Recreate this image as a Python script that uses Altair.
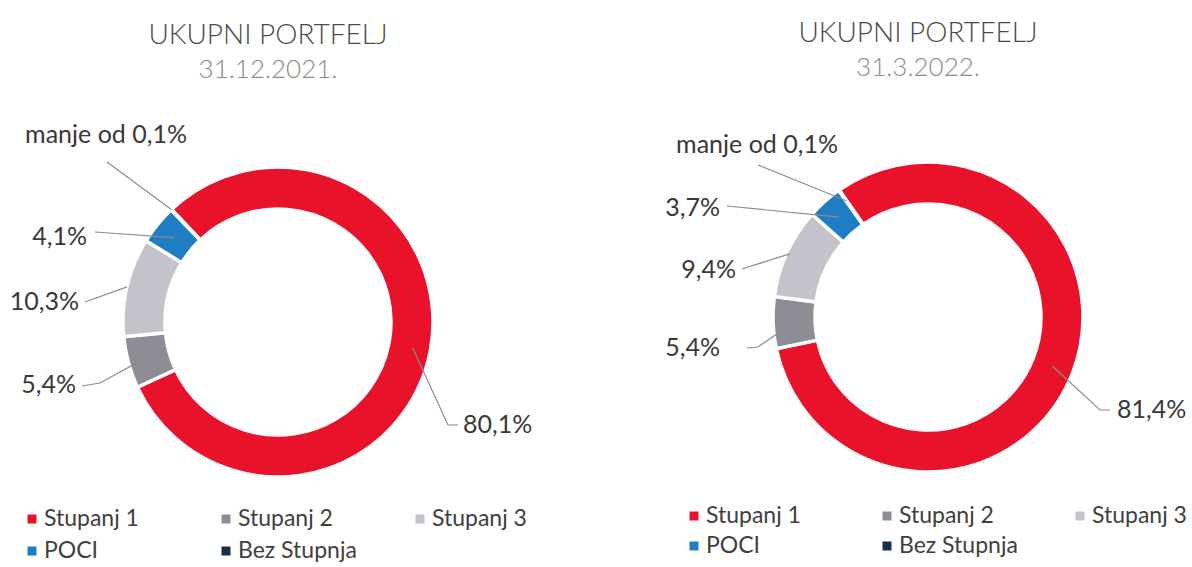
import math
import pandas as pd
import altair as alt

# ---------------- data ----------------
categories = ["Stupanj 1", "Stupanj 2", "Stupanj 3", "POCI", "Bez Stupnja"]
values_2021 = [80.1, 5.4, 10.3, 4.1, 0.05]
values_2022 = [81.4, 5.4, 9.4, 3.7, 0.05]
title_text = "UKUPNI PORTFELJ"
dates = ["31.12.2021.", "31.3.2022."]

# ---------------- styles / layout ----------------
colors = ["#E8132B", "#8D8D95", "#C3C3CB", "#1F7EC3", "#1B2E47"]
FONT = "Lato"
R_IN, R_OUT = 113, 155
PANEL_W, PANEL_H = 596, 567

layout_left = {
    "cx": 278, "cy": 322, "start_deg": 316.6,
    "title_x": 268, "title_y": 36, "date_y": 70,
    "legend_x": 32, "legend_y": 519, "legend_dx": 194, "legend_dy": 32,
    "labels": [
        {"tx": 463, "ty": 425, "align": "left", "pts": [(458, 425), (448, 425)], "r": 137},
        {"tx": 76, "ty": 385, "align": "right", "pts": [(82, 386), (100, 383)], "r": 137},
        {"tx": 79, "ty": 302, "align": "right", "pts": [(85, 302)], "r": 155},
        {"tx": 87, "ty": 237, "align": "right", "pts": [(95, 232)], "r": 134},
        {"tx": 106, "ty": 135, "align": "center", "pts": [(107, 162)], "r": 155},
    ],
}
layout_right = {
    "cx": 332, "cy": 317, "start_deg": 325.0,
    "title_x": 322, "title_y": 34, "date_y": 68,
    "legend_x": 98, "legend_y": 516, "legend_dx": 193, "legend_dy": 30,
    "labels": [
        {"tx": 521, "ty": 410, "align": "left", "pts": [(514, 410), (504, 410)], "r": 134},
        {"tx": 124, "ty": 348, "align": "right", "pts": [(151, 348), (162, 347)], "r": 134},
        {"tx": 140, "ty": 270, "align": "right", "pts": [(146, 269)], "r": 152},
        {"tx": 124, "ty": 208, "align": "right", "pts": [(131, 206)], "r": 134},
        {"tx": 161, "ty": 145, "align": "center", "pts": [(162, 165)], "r": 142},
    ],
}


def fmt(v):
    if v < 0.1:
        return "manje od 0,1%"
    return f"{v:.1f}".replace(".", ",") + "%"


def panel(values, date, L):
    total = sum(values)
    t0 = math.radians(L["start_deg"])
    cx, cy = L["cx"], L["cy"]
    df_arc = pd.DataFrame({"cat": categories, "value": values, "idx": list(range(len(values)))})

    lines, texts, leg = [], [], []
    cum = 0.0
    for i, (c, v) in enumerate(zip(categories, values)):
        mid = (cum + v / 2) / total
        cum += v
        a = t0 + 2 * math.pi * mid
        lab = L["labels"][i]
        ax = cx + lab["r"] * math.sin(a)
        ay = cy - lab["r"] * math.cos(a)
        pts = lab["pts"] + [(ax, ay)]
        for k, (x, y) in enumerate(pts):
            lines.append({"cat": c, "k": k, "x": x, "y": y})
        texts.append({"cat": c, "text": fmt(v), "x": lab["tx"], "y": lab["ty"], "align": lab["align"]})
        leg.append({"cat": c,
                    "x": L["legend_x"] + (i % 3) * L["legend_dx"],
                    "y": L["legend_y"] + (i // 3) * L["legend_dy"]})
    df_lines = pd.DataFrame(lines)
    df_text = pd.DataFrame(texts)
    df_leg = pd.DataFrame(leg)

    color = alt.Color("cat:N", scale=alt.Scale(domain=categories, range=colors), legend=None)

    arcs = alt.Chart(df_arc).mark_arc(
        innerRadius=R_IN, outerRadius=R_OUT, stroke="white", strokeWidth=3.5
    ).encode(
        theta=alt.Theta("value:Q", stack=True,
                        scale=alt.Scale(range=[t0, t0 + 2 * math.pi])),
        order=alt.Order("idx:Q"),
        color=color,
        x=alt.value(cx),
        y=alt.value(cy),
    )

    leaders = alt.Chart(df_lines).mark_line(color="#8C8C8C", strokeWidth=1.2).encode(
        x=alt.X("x:Q", scale=None, axis=None),
        y=alt.Y("y:Q", scale=None, axis=None),
        detail="cat:N",
        order="k:Q",
    )

    text_layers = []
    for al in ["left", "right", "center"]:
        text_layers.append(
            alt.Chart(df_text).transform_filter(alt.datum.align == al).mark_text(
                align=al, baseline="middle", font=FONT, fontSize=25, color="#383838"
            ).encode(
                x=alt.X("x:Q", scale=None, axis=None),
                y=alt.Y("y:Q", scale=None, axis=None),
                text="text:N",
            )
        )

    leg_sq = alt.Chart(df_leg).mark_square(size=81, opacity=1, strokeWidth=0).encode(
        x=alt.X("x:Q", scale=None, axis=None),
        y=alt.Y("y:Q", scale=None, axis=None),
        color=color,
    )
    leg_tx = alt.Chart(df_leg).mark_text(
        align="left", baseline="middle", dx=12, font=FONT, fontSize=23, color="#404040"
    ).encode(
        x=alt.X("x:Q", scale=None, axis=None),
        y=alt.Y("y:Q", scale=None, axis=None),
        text="cat:N",
    )

    df_title = pd.DataFrame({"t": [title_text]})
    df_date = pd.DataFrame({"t": [date]})
    t1 = alt.Chart(df_title).mark_text(
        font=FONT, fontSize=28, fontWeight=300, color="#4A4A4A", align="center", baseline="middle"
    ).encode(text="t:N", x=alt.value(L["title_x"]), y=alt.value(L["title_y"]))
    t2 = alt.Chart(df_date).mark_text(
        font=FONT, fontSize=26, fontWeight=300, color="#8A8A8A", align="center", baseline="middle"
    ).encode(text="t:N", x=alt.value(L["title_x"]), y=alt.value(L["date_y"]))

    return alt.layer(arcs, leaders, *text_layers, leg_sq, leg_tx, t1, t2).properties(
        width=PANEL_W, height=PANEL_H
    )


left = panel(values_2021, dates[0], layout_left)
right = panel(values_2022, dates[1], layout_right)

chart = alt.hconcat(left, right, spacing=0, padding=0, background="white").resolve_scale(
    theta="independent"
).configure_view(stroke=None)

chart.save("out.html", embed_options={"renderer": "svg", "actions": False})
